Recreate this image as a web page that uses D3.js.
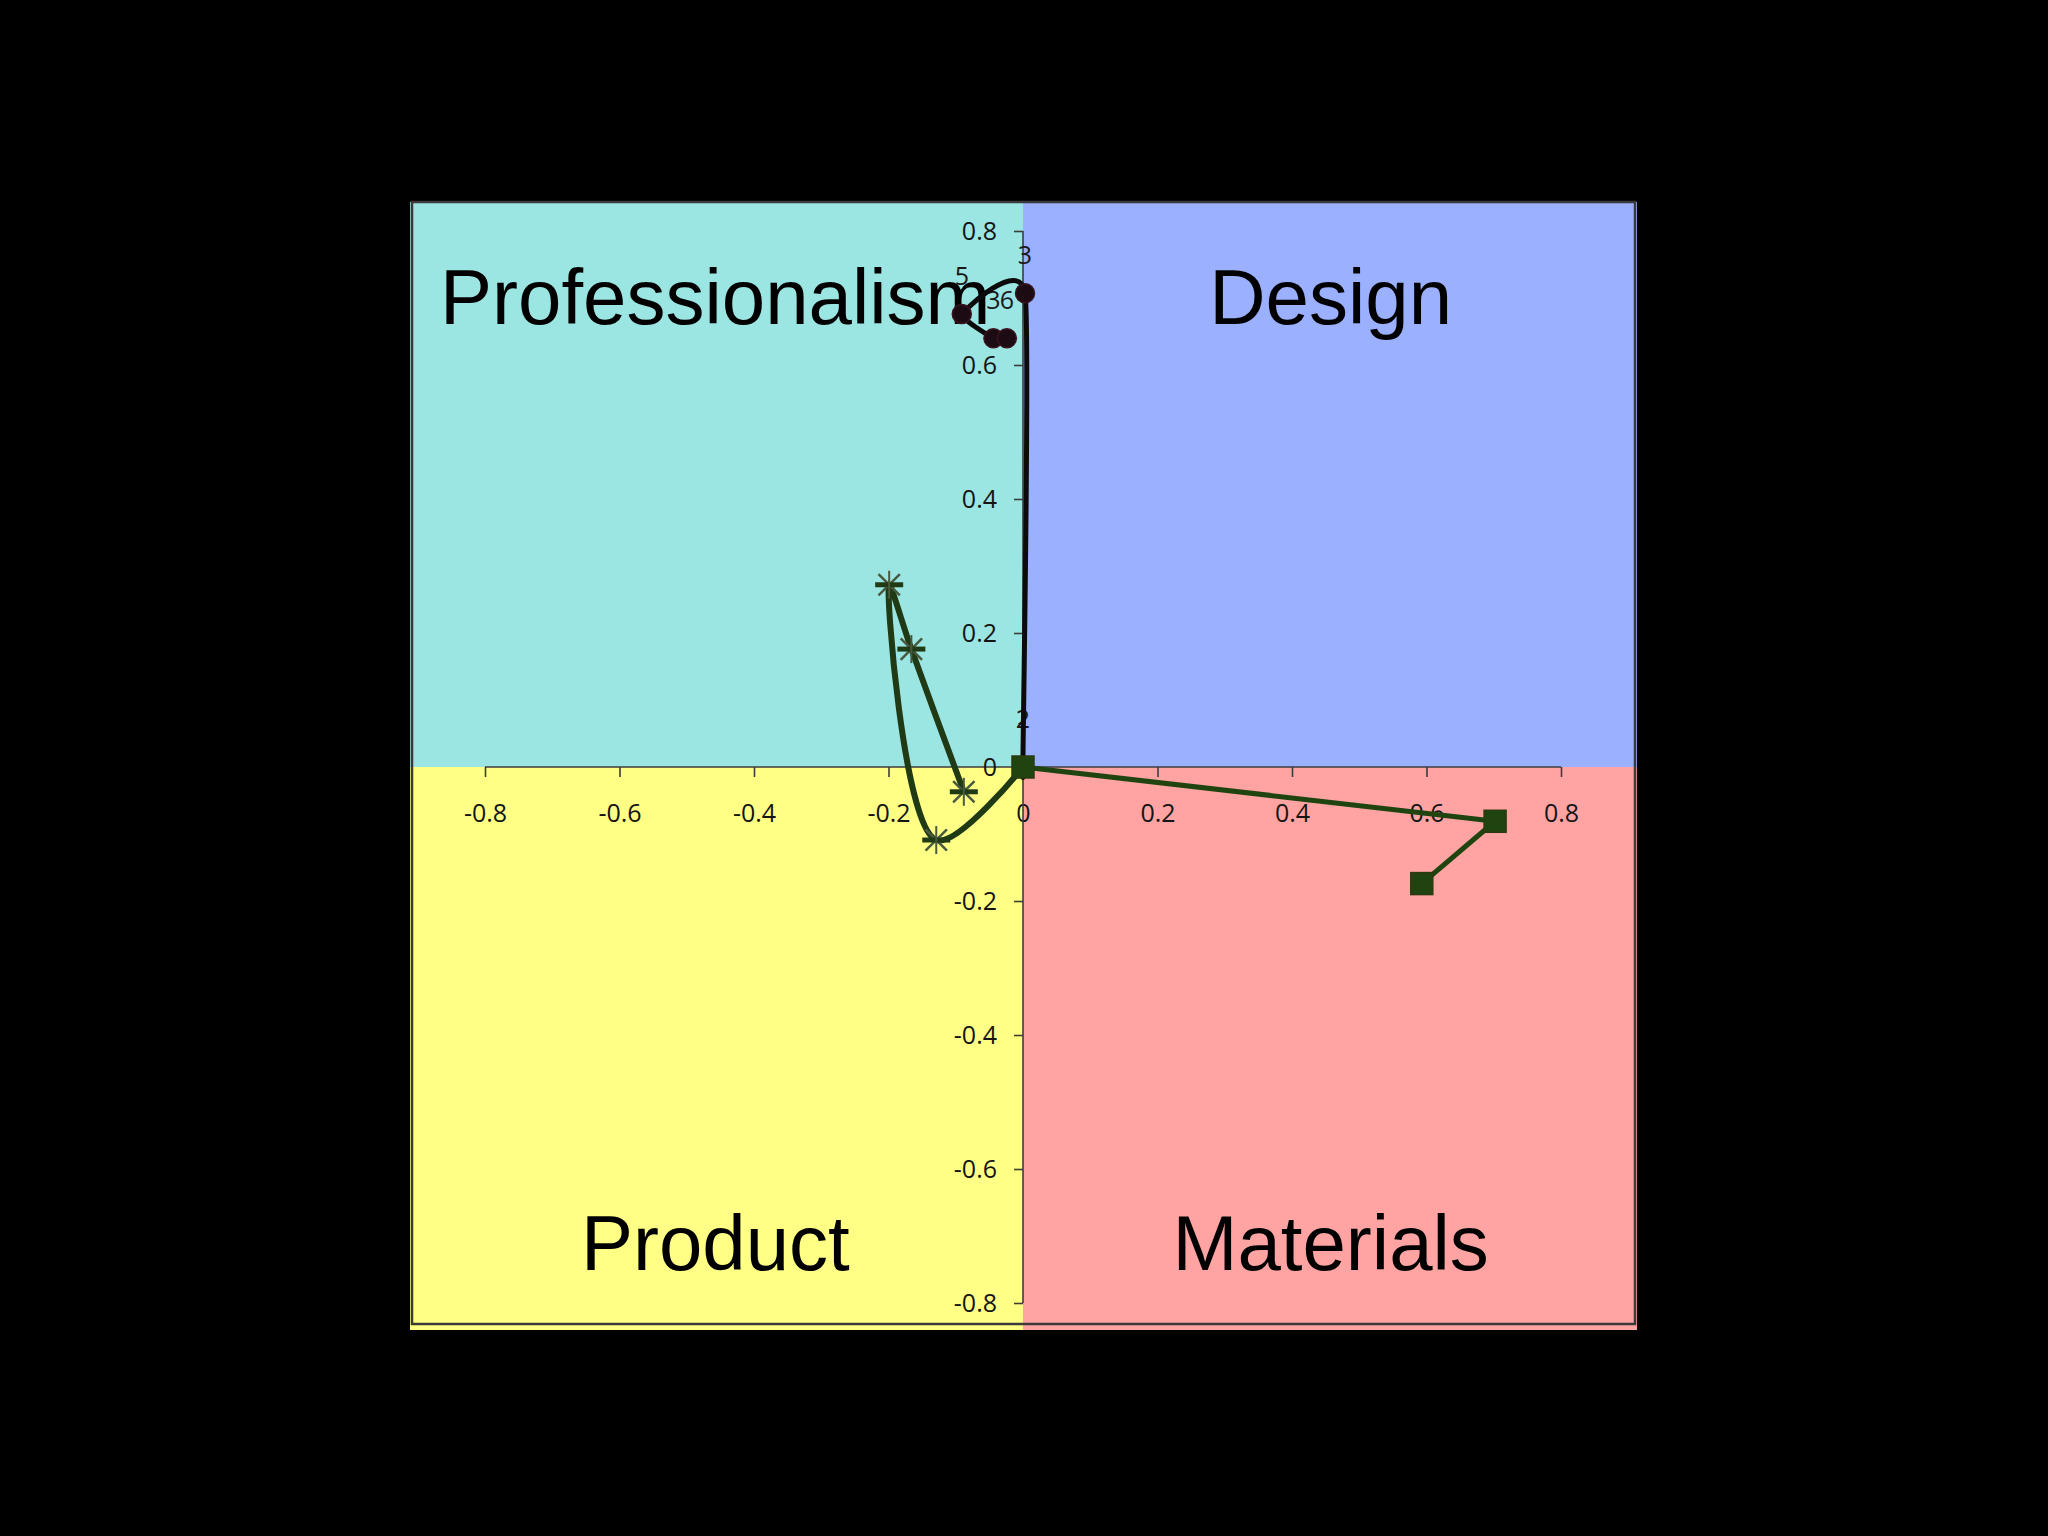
<!DOCTYPE html>
<html>
<head>
<meta charset="utf-8">
<script src="https://cdn.jsdelivr.net/npm/d3@7"></script>
<style>
  html, body { margin: 0; padding: 0; background: #000; }
  svg { display: block; }
</style>
</head>
<body>
<svg id="chart" width="2048" height="1536"></svg>
<script>
// ---- data ----
const xTicks = [-0.8, -0.6, -0.4, -0.2, 0, 0.2, 0.4, 0.6, 0.8];
const yTicks = [0.8, 0.6, 0.4, 0.2, 0, -0.2, -0.4, -0.6, -0.8];
const quadrantNames = ["Professionalism", "Design", "Product", "Materials"];

const circleX = [0, 0, 0.003, -0.091, -0.044, -0.024];
const circleY = [0, 0.015, 0.707, 0.676, 0.640, 0.640];
const circleLabels = ["1", "2", "3", "5", "3", "6"];

const starX = [0, -0.129, -0.199, -0.166, -0.088];
const starY = [0, -0.109, 0.272, 0.176, -0.037];

const squareX = [0, 0.702, 0.593];
const squareY = [0, -0.081, -0.174];

// ---- layout ----
const svg = d3.select("#chart");
const x = d3.scaleLinear().domain([-0.8, 0.8]).range([485, 1561]);
const y = d3.scaleLinear().domain([-0.8, 0.8]).range([1303, 231]);

const L = 410, R = 1637, T = 202, B = 1330;
const x0 = x(0), y0 = y(0);

// quadrants
const quads = [
  {x: L, y: T, w: x0 - L, h: y0 - T, c: "#9be5e2"},
  {x: x0, y: T, w: R - x0, h: y0 - T, c: "#9bb0ff"},
  {x: L, y: y0, w: x0 - L, h: B - y0, c: "#ffff85"},
  {x: x0, y: y0, w: R - x0, h: B - y0, c: "#ffa3a3"}
];
svg.selectAll("rect.q").data(quads).enter().append("rect")
  .attr("class", "q")
  .attr("x", d => d.x).attr("y", d => d.y)
  .attr("width", d => d.w).attr("height", d => d.h)
  .attr("fill", d => d.c);

// plot border
svg.append("rect").attr("x", 412).attr("y", 202).attr("width", 1635 - 412).attr("height", 1324 - 202)
  .attr("fill", "none").attr("stroke", "#3a3a3a").attr("stroke-width", 2.5);

// quadrant titles
const qPos = [
  {n: quadrantNames[0], xv: -0.4575, yb: 324},
  {n: quadrantNames[1], xv: 0.4575, yb: 324},
  {n: quadrantNames[2], xv: -0.4575, yb: 1270},
  {n: quadrantNames[3], xv: 0.4575, yb: 1270}
];
svg.selectAll("text.qt").data(qPos).enter().append("text")
  .attr("class", "qt")
  .attr("x", d => x(d.xv)).attr("y", d => d.yb)
  .attr("text-anchor", "middle")
  .attr("font-family", "'Liberation Sans', Arial, sans-serif")
  .attr("font-size", 78)
  .attr("fill", "#000")
  .text(d => d.n);

// axes
const axisColor = "#3c3c3c";
const tickFont = "'Open Sans', 'Noto Sans', sans-serif";
const fmt = d => d === 0 ? "0" : d3.format(".1f")(d).replace("−", "-");
const xAxis = d3.axisBottom(x).tickValues(xTicks).tickSize(10).tickPadding(27).tickFormat(fmt);
const gx = svg.append("g").attr("transform", `translate(0,${y0})`).call(xAxis);
gx.select(".domain").attr("stroke", axisColor).attr("stroke-width", 1.6);
gx.selectAll(".tick line").attr("stroke", axisColor).attr("stroke-width", 1.6);
gx.selectAll(".tick text").attr("font-family", tickFont).attr("font-size", 25)
  .attr("font-weight", 500).attr("fill", "#141414");

const yAxis = d3.axisLeft(y).tickValues(yTicks).tickSize(9).tickPadding(17).tickFormat(fmt);
const gy = svg.append("g").attr("transform", `translate(${x0},0)`).call(yAxis);
gy.select(".domain").attr("stroke", axisColor).attr("stroke-width", 1.6);
gy.selectAll(".tick line").attr("stroke", axisColor).attr("stroke-width", 1.6);
gy.selectAll(".tick text").attr("font-family", tickFont).attr("font-size", 25)
  .attr("font-weight", 500).attr("fill", "#141414");

gx.select(".domain").attr("d", `M${x(-0.8)},0H${x(0.8)}`);
gy.select(".domain").attr("d", `M0,${y(0.8)}V${y(-0.8)}`);

// series helpers
const zip = (xs, ys) => xs.map((v, i) => ({x: v, y: ys[i], i}));
const circles = zip(circleX, circleY);
const stars = zip(starX, starY);
const squares = zip(squareX, squareY);

const smoothStar = d3.line().x(d => x(d.x)).y(d => y(d.y)).curve(d3.curveCatmullRom.alpha(0.5));
const smoothCircle = d3.line().x(d => x(d.x)).y(d => y(d.y)).curve(d3.curveCardinal.tension(0.5));
const straight = d3.line().x(d => x(d.x)).y(d => y(d.y));

// circle series labels (drawn under line)
svg.selectAll("text.cl").data(circles).enter().append("text")
  .attr("class", "cl")
  .attr("x", d => x(d.x)).attr("y", d => y(d.y) - 29)
  .attr("text-anchor", "middle")
  .attr("font-family", tickFont).attr("font-size", 25).attr("fill", "#1a1a1a")
  .text((d, i) => circleLabels[i]);

// star series
const starColor = "#1f3a14";
svg.append("path").attr("d", smoothStar(stars)).attr("fill", "none")
  .attr("stroke", starColor).attr("stroke-width", 6).attr("stroke-linejoin", "round");
const ast = d3.symbol().type(d3.symbolTimes).size(300);
const starG = svg.selectAll("g.st").data(stars.slice(1)).enter().append("g")
  .attr("class", "st").attr("transform", d => `translate(${x(d.x)},${y(d.y)})`);
starG.append("path").attr("d", ast()).attr("fill", "none").attr("stroke", "#4a5a40").attr("stroke-width", 2.5);
starG.append("path").attr("d", "M-14,0H14").attr("stroke", starColor).attr("stroke-width", 5);
starG.append("path").attr("d", "M0,-14V14").attr("stroke", "#4a5a40").attr("stroke-width", 2);

// circle series
svg.append("path").attr("d", smoothCircle(circles)).attr("fill", "none")
  .attr("stroke", "#0c0a0b").attr("stroke-width", 5).attr("stroke-linejoin", "round");
svg.selectAll("circle.c").data(circles.slice(2)).enter().append("circle")
  .attr("class", "c")
  .attr("cx", d => x(d.x)).attr("cy", d => y(d.y)).attr("r", 9.5)
  .attr("fill", "#1c0b12").attr("stroke", "#3a1420").attr("stroke-width", 1.5);

// square series
const sqColor = "#1f4410";
svg.append("path").attr("d", straight(squares)).attr("fill", "none")
  .attr("stroke", sqColor).attr("stroke-width", 5).attr("stroke-linejoin", "round");
svg.selectAll("rect.s").data(squares).enter().append("rect")
  .attr("class", "s")
  .attr("x", d => x(d.x) - 11).attr("y", d => y(d.y) - 11)
  .attr("width", 22).attr("height", 22)
  .attr("fill", sqColor).attr("stroke", "#2b3a10").attr("stroke-width", 1.5);
</script>
</body>
</html>
